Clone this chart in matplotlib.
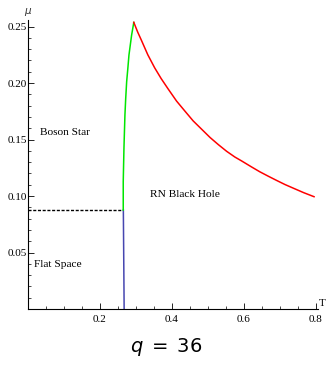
import matplotlib
matplotlib.use("Agg")
import matplotlib.pyplot as plt
from matplotlib.ticker import MultipleLocator

# Data
green_T = [0.2647, 0.2647, 0.2667, 0.2694, 0.2715, 0.2742, 0.2775, 0.2806, 0.2880, 0.2910, 0.2940]
green_mu = [0.0876, 0.1127, 0.1425, 0.1717, 0.1860, 0.2012, 0.2130, 0.2248, 0.2425, 0.2480, 0.2537]

red_T = [0.294, 0.305, 0.315, 0.333, 0.352, 0.370, 0.389, 0.413, 0.436, 0.459, 0.483, 0.506,
         0.529, 0.552, 0.575, 0.594, 0.621, 0.644, 0.668, 0.691, 0.714, 0.737, 0.766, 0.795]
red_mu = [0.2537, 0.2450, 0.2380, 0.2250, 0.2135, 0.2040, 0.1950, 0.1840, 0.1752, 0.1665, 0.1590, 0.1518,
          0.1455, 0.1396, 0.1345, 0.1310, 0.1258, 0.1215, 0.1175, 0.1138, 0.1102, 0.1070, 0.1030, 0.0994]

blue_T = [0.2650, 0.2672]
blue_mu = [0.0876, 0.0]

dash_T = [0.0, 0.2650]
dash_mu = [0.0876, 0.0876]

xticks = [0.2, 0.4, 0.6, 0.8]
xticklabels = ["0.2", "0.4", "0.6", "0.8"]
yticks = [0.05, 0.10, 0.15, 0.20, 0.25]
yticklabels = ["0.05", "0.10", "0.15", "0.20", "0.25"]

labels = [("Boson Star", 0.033, 0.156), ("Flat Space", 0.016, 0.039), ("RN Black Hole", 0.339, 0.101)]
title = "$q\\;=\\;36$"

serif = "Liberation Serif"

fig = plt.figure(figsize=(3.29, 3.67), dpi=100)
ax = fig.add_axes([28/329, 1 - 309/367, (318 - 28)/329, (309 - 20)/367])
ax.set_xlim(0, 0.806)
ax.set_ylim(0, 0.2558)

ax.plot(dash_T, dash_mu, color="black", lw=1.0, dashes=(2.2, 1.2))
ax.plot(blue_T, blue_mu, color="#4646b0", lw=1.1)
ax.plot(green_T, green_mu, color="#00e600", lw=1.1)
ax.plot(red_T, red_mu, color="#ff0000", lw=1.1)

for s in ["top", "right"]:
    ax.spines[s].set_visible(False)
for s in ["left", "bottom"]:
    ax.spines[s].set_linewidth(0.8)

ax.set_xticks(xticks)
ax.set_xticklabels(xticklabels, fontfamily=serif, fontsize=8)
ax.set_yticks(yticks)
ax.set_yticklabels(yticklabels, fontfamily=serif, fontsize=8)
ax.xaxis.set_minor_locator(MultipleLocator(0.05))
ax.yaxis.set_minor_locator(MultipleLocator(0.01))
ax.tick_params(which="major", direction="in", length=4, width=0.6)
ax.tick_params(which="minor", direction="in", length=2, width=0.5)
ax.tick_params(axis="x", pad=4)
ax.tick_params(axis="y", pad=1)

for txt, x, y in labels:
    ax.text(x, y, txt, fontfamily=serif, fontsize=8.2, ha="left", va="center")

fig.text(28/329, 1 - 12/367, "$\\mu$", ha="center", va="center", fontsize=7.5, color="#333333")
fig.text(322/329, 1 - 304/367, "T", ha="center", va="center", fontsize=8, fontfamily=serif)

fig.text(166/329, 1 - 347/367, title, ha="center", va="center", fontsize=14)

fig.savefig("out.png", dpi=100)
